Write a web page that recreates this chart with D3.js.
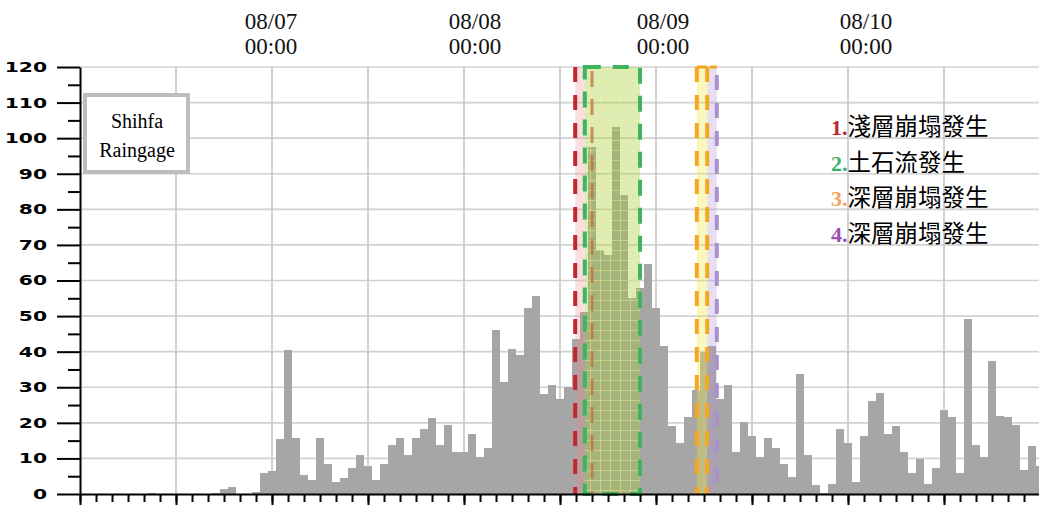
<!DOCTYPE html>
<meta charset="utf-8" />
<style>
  body { margin: 0; background: #fff; }
  svg { display: block; }
</style>
<body>
  <div id="my_dataviz"></div>
  <script src="https://d3js.org/d3.v7.min.js"></script>
  <script>
    // hourly rainfall (mm), one bar per hour starting 08/06 00:00
    var rain = [
      0, 0, 0, 0, 0, 0, 0, 0, 0, 0.3,
      0, 0, 0, 0, 0, 0, 0, 0.3, 1.5, 2.1,
      0, 0, 0.5, 6.0, 6.5, 15.5, 40.6, 15.8, 5.4, 4.0,
      15.8, 8.5, 3.5, 4.6, 7.4, 11.0, 8.0, 4.0, 8.5, 13.8,
      15.8, 11.0, 15.8, 18.3, 21.4, 13.9, 19.5, 11.9, 11.9, 17.0,
      10.5, 13.0, 46.0, 31.6, 40.7, 39.0, 52.2, 55.6, 28.0, 30.5,
      26.6, 30.0, 43.5, 51.1, 97.5, 68.5, 67.1, 103.2, 84.0, 55.0,
      58.0, 64.6, 52.2, 41.5, 19.0, 14.4, 21.5, 29.1, 39.8, 41.5,
      26.6, 30.5, 11.9, 20.1, 16.4, 10.5, 15.6, 13.0, 8.5, 4.9,
      33.6, 11.1, 2.4, 0.3, 2.9, 18.4, 14.4, 3.5, 16.4, 26.0,
      28.5, 17.0, 19.0, 11.9, 6.0, 9.9, 2.9, 7.4, 23.5, 21.5,
      6.0, 49.1, 13.9, 10.5, 37.5, 22.0, 21.5, 19.5, 6.8, 13.6,
      8.0
    ];

    // date labels on top (hour offset from 08/06 00:00)
    var dateHours = [24, 48, 72, 96];
    var dateLabels = ["08/07", "08/08", "08/09", "08/10"];
    var timeLabel = "00:00";
    var labelNudge = [-1, 11, 7, 18];

    // event windows (hour offsets)
    var shallow1 = [61.9, 63.1];
    var debrisFlow = [63.1, 70.0];
    var debrisMark = 64.0;
    var deep3 = [77.1, 78.4];
    var deep4 = [78.4, 79.6];

    var legendNums = ["1.", "2.", "3.", "4."];
    var legendTexts = ["淺層崩塌發生", "土石流發生", "深層崩塌發生", "深層崩塌發生"];
    var legendColors = ["#b8292f", "#3cb06a", "#f5a25d", "#9b4fb0"];

    var width = 1039, height = 505;

    var svg = d3
      .select("#my_dataviz")
      .append("svg")
      .attr("width", width)
      .attr("height", height);

    var x = d3.scaleLinear().domain([0, 120]).range([80, 1040]);
    var y = d3.scaleLinear().domain([0, 120]).range([494, 67]);

    // fine grid pattern for the debris flow box
    var defs = svg.append("defs");
    var pat = defs
      .append("pattern")
      .attr("id", "gridpat")
      .attr("patternUnits", "userSpaceOnUse")
      .attr("width", 10)
      .attr("height", 10);
    pat.append("rect").attr("width", 10).attr("height", 10).attr("fill", "rgba(166,204,52,0.37)");
    pat.append("path").attr("d", "M0,0.5H10M0.5,0V10").attr("stroke", "rgba(235,245,150,0.45)").attr("stroke-width", 1);

    // gridlines
    svg
      .append("g")
      .selectAll("line")
      .data(d3.range(10, 121, 10))
      .enter()
      .append("line")
      .attr("x1", x(0))
      .attr("x2", x(120))
      .attr("y1", function(d) { return y(d); })
      .attr("y2", function(d) { return y(d); })
      .attr("stroke", "#d2d2d2")
      .attr("stroke-width", 1.6);

    svg
      .append("g")
      .selectAll("line")
      .data(d3.range(12, 121, 12))
      .enter()
      .append("line")
      .attr("x1", function(d) { return x(d); })
      .attr("x2", function(d) { return x(d); })
      .attr("y1", y(120))
      .attr("y2", y(0))
      .attr("stroke", "#c6c6c6")
      .attr("stroke-width", 1.6);

    // bars (no gaps between neighbours)
    svg
      .append("g")
      .attr("shape-rendering", "crispEdges")
      .selectAll("rect")
      .data(rain)
      .enter()
      .append("rect")
      .attr("x", function(d, i) { return Math.round(x(i) - 4); })
      .attr("width", x(1) - x(0))
      .attr("y", function(d) { return y(d); })
      .attr("height", function(d) { return y(0) - y(d); })
      .attr("fill", "#a6a6a6");

    // event overlays
    var ev = svg.append("g");
    ev.append("rect")
      .attr("x", x(shallow1[0]))
      .attr("width", x(shallow1[1]) - x(shallow1[0]))
      .attr("y", y(120))
      .attr("height", y(0) - y(120))
      .attr("fill", "rgba(245,130,140,0.27)");
    ev.append("line")
      .attr("x1", x(shallow1[0])).attr("x2", x(shallow1[0]))
      .attr("y1", y(120)).attr("y2", y(0))
      .attr("stroke", "#c1272d").attr("stroke-width", 4)
      .attr("stroke-dasharray", "15,13");

    ev.append("rect")
      .attr("x", x(debrisFlow[0]))
      .attr("width", x(debrisFlow[1]) - x(debrisFlow[0]))
      .attr("y", y(120))
      .attr("height", y(0) - y(120))
      .attr("fill", "url(#gridpat)")
      .attr("stroke", "#3cb55e")
      .attr("stroke-width", 4)
      .attr("stroke-dasharray", "16,12");
    ev.append("line")
      .attr("x1", x(debrisMark)).attr("x2", x(debrisMark))
      .attr("y1", y(120) + 4).attr("y2", y(0))
      .attr("stroke", "#b9703f").attr("stroke-width", 3)
      .attr("stroke-opacity", 0.75)
      .attr("stroke-dasharray", "16,12");

    ev.append("rect")
      .attr("x", x(deep3[0]))
      .attr("width", x(deep3[1]) - x(deep3[0]))
      .attr("y", y(120))
      .attr("height", y(0) - y(120))
      .attr("fill", "rgba(240,232,70,0.35)");
    ev.append("rect")
      .attr("x", x(deep4[0]))
      .attr("width", x(deep4[1]) - x(deep4[0]))
      .attr("y", y(120))
      .attr("height", y(0) - y(120))
      .attr("fill", "rgba(170,150,210,0.3)");
    [deep3[0], deep3[1]].forEach(function(h) {
      ev.append("line")
        .attr("x1", x(h)).attr("x2", x(h))
        .attr("y1", y(120)).attr("y2", y(0))
        .attr("stroke", "#f5a623").attr("stroke-width", 4)
        .attr("stroke-dasharray", "15,13");
    });
    ev.append("line")
      .attr("x1", x(deep4[1])).attr("x2", x(deep4[1]))
      .attr("y1", y(120)).attr("y2", y(0))
      .attr("stroke", "#a792c9").attr("stroke-width", 4)
      .attr("stroke-dasharray", "15,13")
      .attr("stroke-dashoffset", -8);
    ev.append("line")
      .attr("x1", x(deep3[0])).attr("x2", x(deep4[1]))
      .attr("y1", y(120)).attr("y2", y(120))
      .attr("stroke", "#f5a623").attr("stroke-width", 3)
      .attr("stroke-dasharray", "10,3");

    // y axis
    var sx = 1.45;
    var yAxis = svg
      .append("g")
      .attr("transform", "translate(" + x(0) + ",0)")
      .call(d3.axisLeft(y).tickValues(d3.range(0, 121, 10)).tickSize(23).tickSizeOuter(0).tickPadding(10));
    yAxis.selectAll("line, path").attr("stroke", "#000").attr("stroke-width", 2);
    yAxis
      .selectAll("text")
      .attr("x", -33 / sx)
      .attr("transform", "scale(" + sx + ",1)")
      .style("font-family", "'DejaVu Sans', sans-serif")
      .style("font-weight", "bold")
      .style("font-size", "14px")
      .attr("fill", "#000");

    var yMinor = svg
      .append("g")
      .attr("transform", "translate(" + x(0) + ",0)")
      .call(d3.axisLeft(y).tickValues(d3.range(5, 120, 10)).tickSize(12).tickFormat(""));
    yMinor.select(".domain").remove();
    yMinor.selectAll("line").attr("stroke", "#000").attr("stroke-width", 2);

    // x axis
    var xAxis = svg
      .append("g")
      .attr("transform", "translate(0," + y(0) + ")")
      .call(d3.axisBottom(x).tickValues(d3.range(0, 121, 2)).tickSize(8).tickSizeOuter(0).tickFormat(""));
    xAxis.selectAll("line, path").attr("stroke", "#000").attr("stroke-width", 2);
    var xMajor = svg
      .append("g")
      .attr("transform", "translate(0," + y(0) + ")")
      .call(d3.axisBottom(x).tickValues(d3.range(0, 121, 12)).tickSize(11).tickFormat(""));
    xMajor.select(".domain").remove();
    xMajor.selectAll("line").attr("stroke", "#000").attr("stroke-width", 2);

    // date labels on top
    var dl = svg
      .append("g")
      .selectAll("text")
      .data(dateHours)
      .enter()
      .append("text")
      .attr("text-anchor", "middle")
      .style("font-family", "'Liberation Serif', 'Times New Roman', serif")
      .style("font-size", "23px")
      .attr("fill", "#111");
    dl.append("tspan")
      .attr("x", function(d, i) { return x(d) + labelNudge[i]; })
      .attr("y", 29)
      .text(function(d, i) { return dateLabels[i]; });
    dl.append("tspan")
      .attr("x", function(d, i) { return x(d) + labelNudge[i]; })
      .attr("y", 54)
      .text(timeLabel);

    // station box
    svg
      .append("rect")
      .attr("x", 85)
      .attr("y", 95)
      .attr("width", 103)
      .attr("height", 77)
      .attr("fill", "#fff")
      .attr("stroke", "#bdbdbd")
      .attr("stroke-width", 4);
    svg
      .append("text")
      .attr("x", 137)
      .attr("y", 128)
      .attr("text-anchor", "middle")
      .style("font-family", "'Liberation Serif', 'Times New Roman', serif")
      .style("font-size", "20px")
      .text("Shihfa");
    svg
      .append("text")
      .attr("x", 137)
      .attr("y", 157)
      .attr("text-anchor", "middle")
      .style("font-family", "'Liberation Serif', 'Times New Roman', serif")
      .style("font-size", "20px")
      .text("Raingage");

    // legend
    var lg = svg
      .append("g")
      .selectAll("text")
      .data(legendTexts)
      .enter()
      .append("text")
      .attr("x", 831)
      .attr("y", function(d, i) { return 135 + i * 35.5; });
    lg.append("tspan")
      .style("font-family", "'Liberation Serif', 'Times New Roman', serif")
      .style("font-weight", "bold")
      .style("font-size", "22px")
      .attr("fill", function(d, i) { return legendColors[i]; })
      .text(function(d, i) { return legendNums[i]; });
    lg.append("tspan")
      .style("font-family", "'Noto Sans CJK TC', 'Noto Sans CJK SC', sans-serif")
      .style("font-size", "23.5px")
      .attr("fill", "#000")
      .text(function(d) { return d; });
  </script>
</body>
